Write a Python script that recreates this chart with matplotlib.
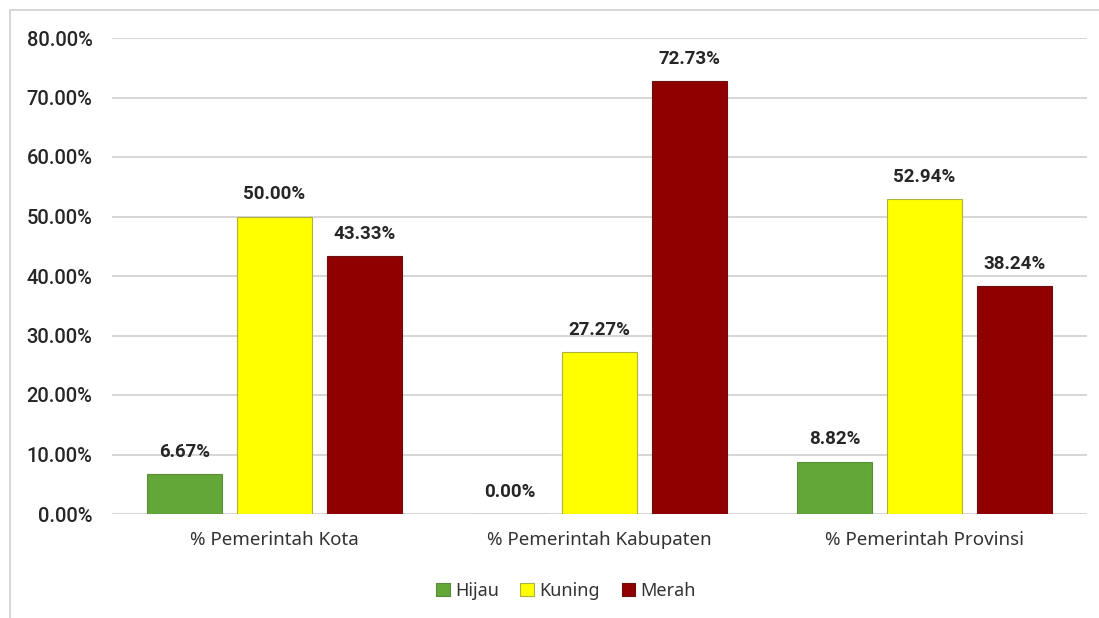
import matplotlib
matplotlib.use("Agg")
import matplotlib.pyplot as plt
import numpy as np
from matplotlib.ticker import FuncFormatter
from matplotlib.patches import Rectangle

categories = ["% Pemerintah Kota", "% Pemerintah Kabupaten", "% Pemerintah Provinsi"]
series_names = ["Hijau", "Kuning", "Merah"]
hijau = [6.67, 0.00, 8.82]
kuning = [50.00, 27.27, 52.94]
merah = [43.33, 72.73, 38.24]
colors = ["#62A737", "#FFFF00", "#900000"]
edges = ["#5a8a3a", "#b0b040", "#6a1010"]

plt.rcParams['font.family'] = ['Noto Sans', 'DejaVu Sans']
bold_family = ['Roboto', 'DejaVu Sans']

fig = plt.figure(figsize=(10.99, 6.18), dpi=100)
ax = fig.add_axes([112/1099, 1-514/618, (1087-112)/1099, (514-38)/618])

x = np.arange(len(categories))
width = 0.23
step = 0.277
for i, (name, vals) in enumerate(zip(series_names, [hijau, kuning, merah])):
    pos = x + (i - 1) * step
    ax.bar(pos, vals, width, color=colors[i], edgecolor=edges[i], linewidth=0.8,
           label=name, zorder=3)
    for p, v in zip(pos, vals):
        ax.text(p, v + 2.2, f"{v:.2f}%", ha="center", va="bottom",
                fontsize=13.5, fontweight="bold", family=bold_family,
                color="#262626", zorder=4)

ax.set_xlim(-0.5, 2.5)
ax.set_ylim(0, 80)
ax.set_yticks(np.arange(0, 81, 10))
ax.yaxis.set_major_formatter(FuncFormatter(lambda v, _: f"{v:.2f}%"))
ax.set_xticks(x)
ax.set_xticklabels(categories)
ax.grid(axis="y", color="#cccccc", linewidth=1.1, zorder=0)
for s in ax.spines.values():
    s.set_visible(False)
ax.tick_params(axis="x", length=0, labelsize=13.5, colors="#333333", pad=12)
ax.tick_params(axis="y", length=0, labelsize=13.5, colors="#262626", pad=14)
for lbl in ax.get_yticklabels():
    lbl.set_family(bold_family)
    lbl.set_fontweight("medium")
    lbl.set_fontsize(14.5)

# chart border
fig.patches.append(Rectangle((10/1099, -0.01), 1.1, 1 - 10/618 + 0.01,
                             transform=fig.transFigure, fill=False,
                             edgecolor="#d0d0d0", linewidth=1.2))

handles, labels = ax.get_legend_handles_labels()
fig.legend(handles, labels, loc="center", bbox_to_anchor=(566/1099, 1-591/618),
           ncol=3, frameon=False, fontsize=13, handlelength=0.75, handleheight=0.75,
           handletextpad=0.3, columnspacing=1.2, labelcolor="#333333")

fig.savefig("out.png", dpi=100, facecolor="white")
